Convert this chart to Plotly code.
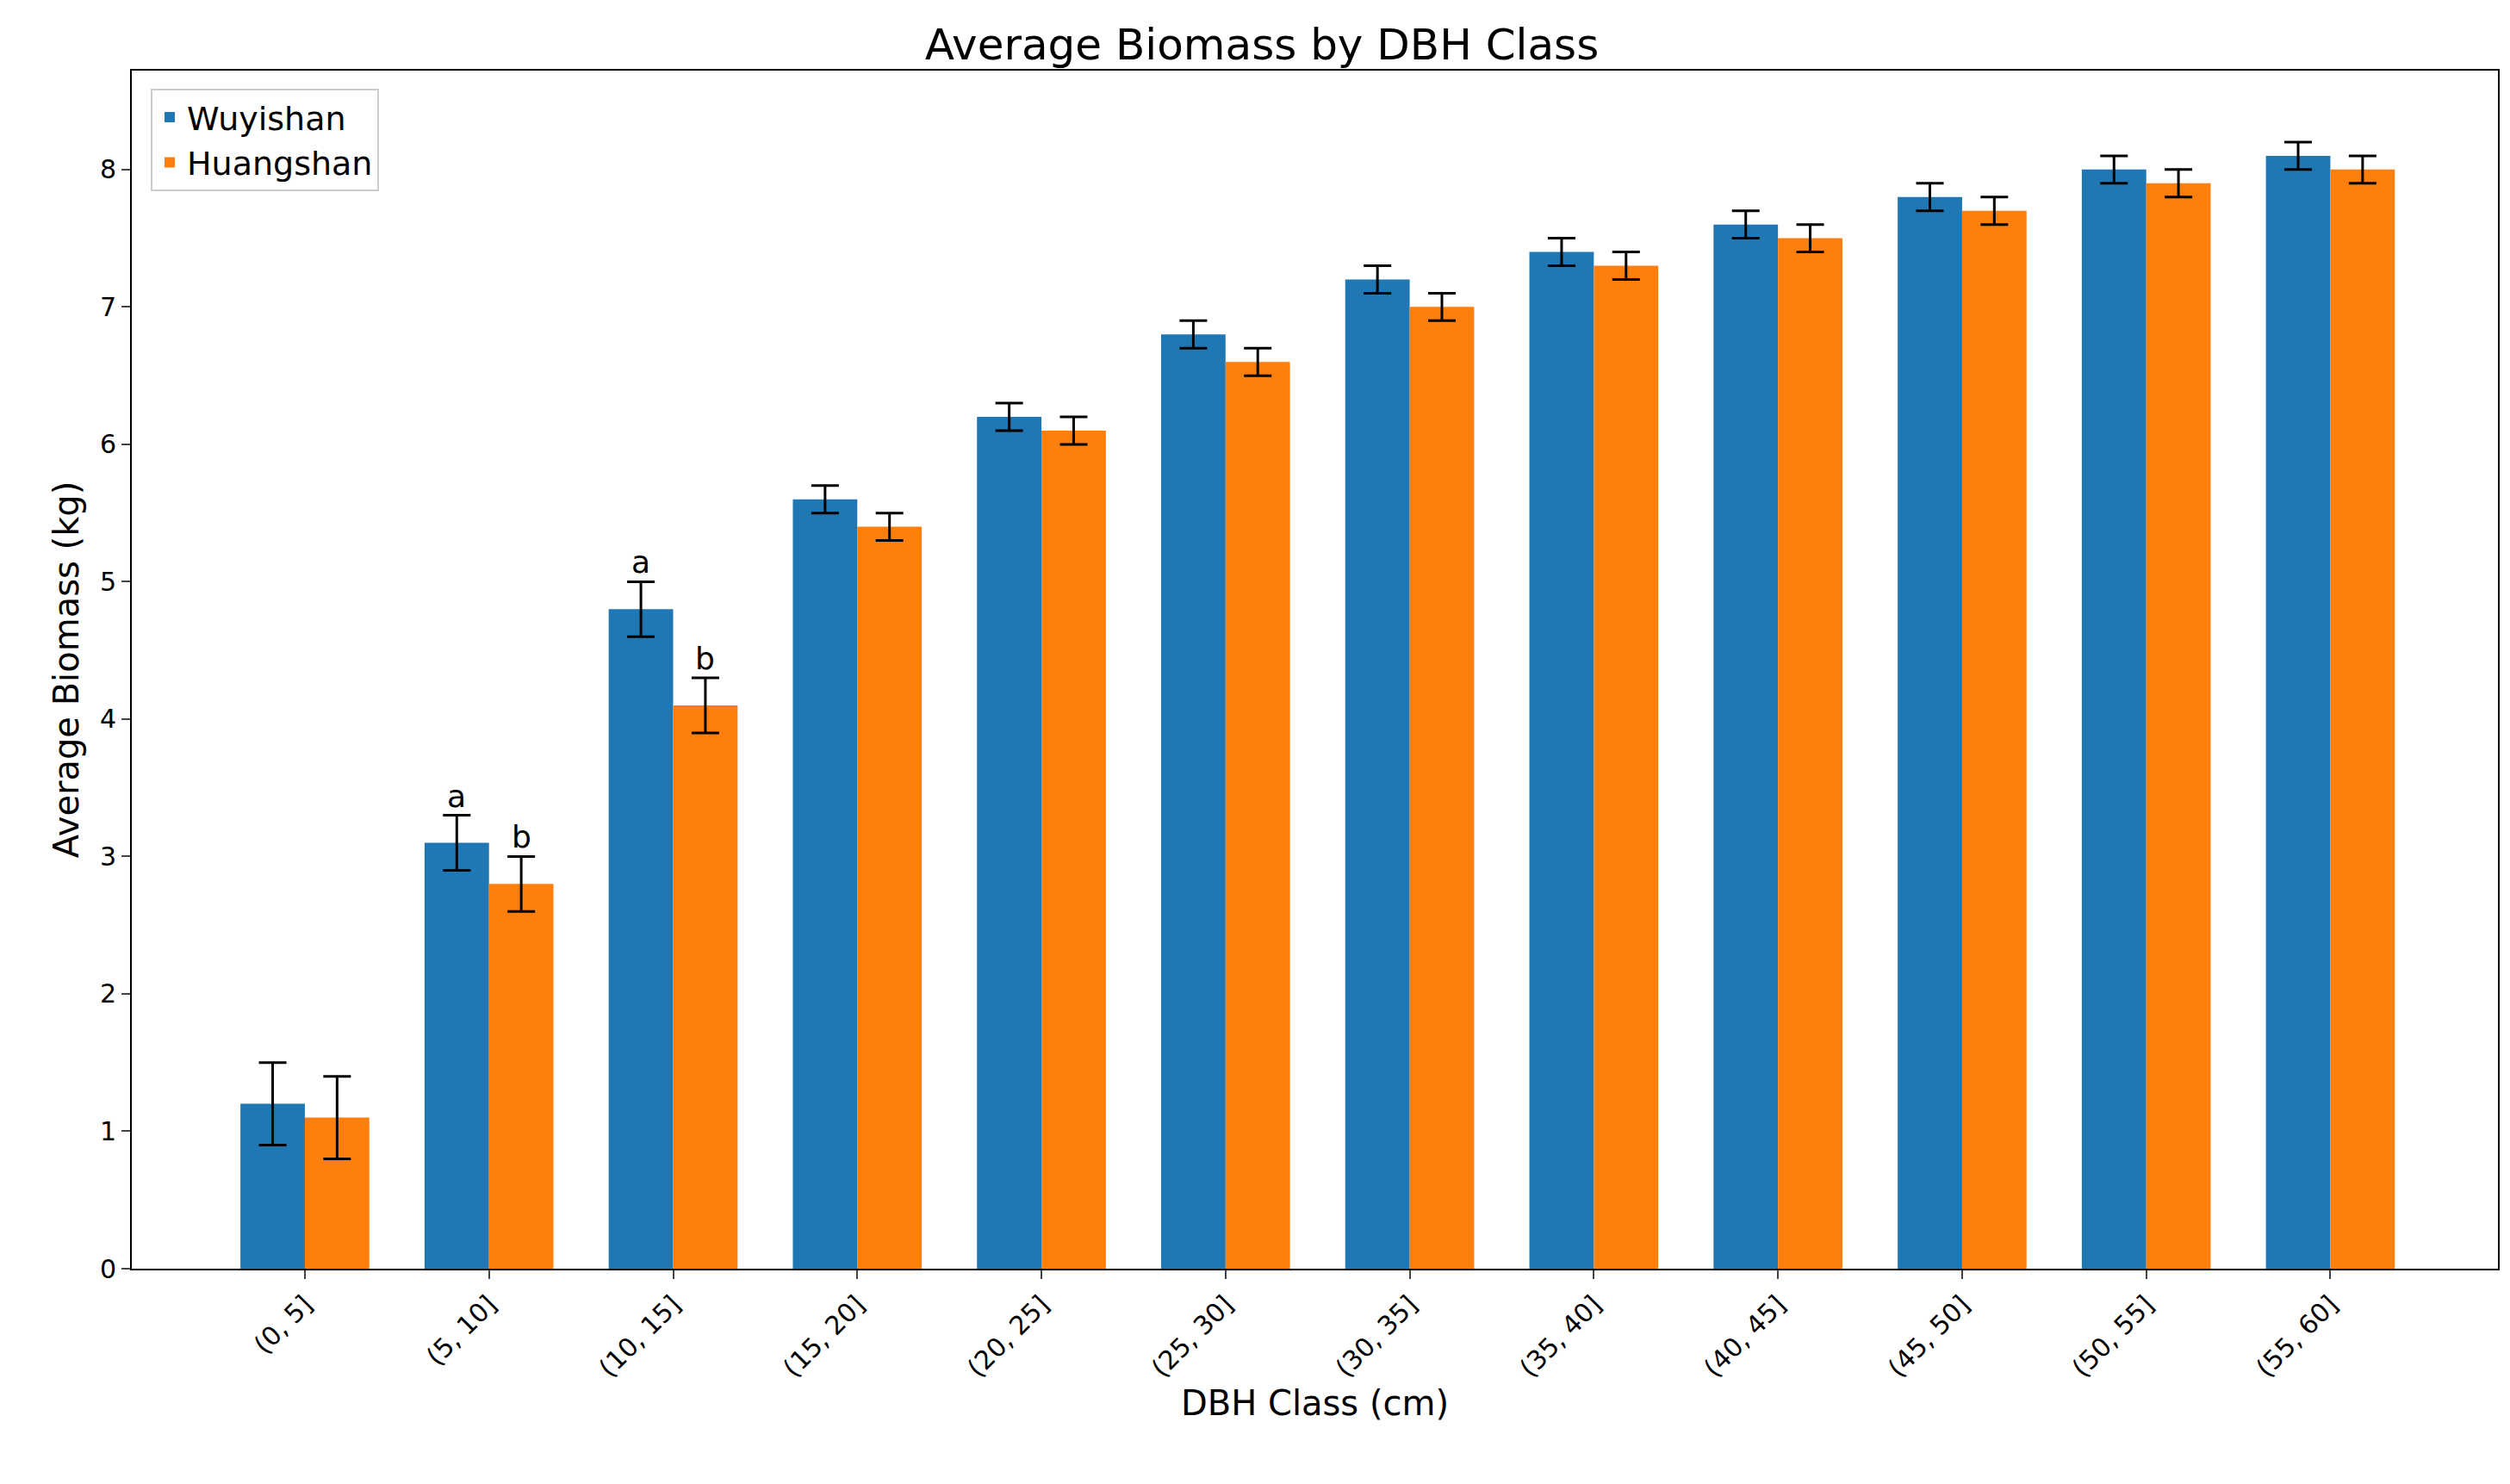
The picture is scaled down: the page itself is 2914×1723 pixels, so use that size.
import plotly.graph_objects as go

classes = ["(0, 5]", "(5, 10]", "(10, 15]", "(15, 20]", "(20, 25]", "(25, 30]",
           "(30, 35]", "(35, 40]", "(40, 45]", "(45, 50]", "(50, 55]", "(55, 60]"]
wuyishan = [1.2, 3.1, 4.8, 5.6, 6.2, 6.8, 7.2, 7.4, 7.6, 7.8, 8.0, 8.1]
wuyishan_err = [0.3, 0.2, 0.2, 0.1, 0.1, 0.1, 0.1, 0.1, 0.1, 0.1, 0.1, 0.1]
huangshan = [1.1, 2.8, 4.1, 5.4, 6.1, 6.6, 7.0, 7.3, 7.5, 7.7, 7.9, 8.0]
huangshan_err = [0.3, 0.2, 0.2, 0.1, 0.1, 0.1, 0.1, 0.1, 0.1, 0.1, 0.1, 0.1]
letters = {1: ("a", "b"), 2: ("a", "b")}

W = 0.35
idx = list(range(len(classes)))

fig = go.Figure()
fig.add_trace(go.Bar(x=[i - W / 2 for i in idx], y=wuyishan, width=W, name="Wuyishan",
                     marker=dict(color="#1f77b4", line_width=0),
                     error_y=dict(type="data", array=wuyishan_err, color="black",
                                  thickness=3, width=16)))
fig.add_trace(go.Bar(x=[i + W / 2 for i in idx], y=huangshan, width=W, name="Huangshan",
                     marker=dict(color="#ff7f0e", line_width=0),
                     error_y=dict(type="data", array=huangshan_err, color="black",
                                  thickness=3, width=16)))

for i, (la, lb) in letters.items():
    fig.add_annotation(x=i - W / 2, y=wuyishan[i] + wuyishan_err[i], text=la,
                       showarrow=False, yanchor="bottom", font=dict(size=36, color="black"))
    fig.add_annotation(x=i + W / 2, y=huangshan[i] + huangshan_err[i], text=lb,
                       showarrow=False, yanchor="bottom", font=dict(size=36, color="black"))

fig.update_layout(
    width=2914, height=1723,
    barmode="overlay",
    plot_bgcolor="white", paper_bgcolor="white",
    font=dict(family="DejaVu Sans", size=30, color="black"),
    title=dict(text="Average Biomass by DBH Class", x=0.5, xanchor="center",
               y=0.985, yanchor="top", font=dict(size=50)),
    margin=dict(l=145, r=22, t=74, b=258),
    legend=dict(x=0.008, y=0.985, xanchor="left", yanchor="top",
                bgcolor="white", bordercolor="#cccccc", borderwidth=2,
                font=dict(size=38)),
    showlegend=True,
)
fig.update_xaxes(tickvals=idx, ticktext=classes, tickangle=-45, range=[-0.94, 11.91],
                 showline=True, linecolor="black", linewidth=2, mirror=True,
                 ticks="outside", ticklen=10, tickwidth=2, showgrid=False,
                 title=dict(text="DBH Class (cm)", font=dict(size=40), standoff=10))
fig.update_yaxes(range=[0, 8.72], dtick=1, showline=True, linecolor="black",
                 linewidth=2, mirror=True, ticks="outside", ticklen=10, tickwidth=2,
                 showgrid=False, zeroline=False,
                 title=dict(text="Average Biomass (kg)", font=dict(size=40), standoff=12))

fig.write_html("out.html")
